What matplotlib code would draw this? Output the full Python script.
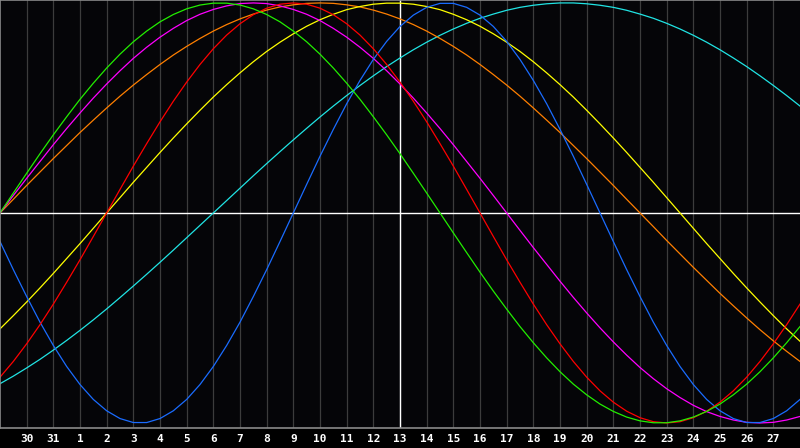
import matplotlib
matplotlib.use('Agg')
import matplotlib.pyplot as plt

# day offsets from "today" (the 13th) and the date shown at each day line
days = list(range(-15, 16))
day_labels = ['29', '30', '31', '1', '2', '3', '4', '5', '6', '7', '8', '9', '10',
              '11', '12', '13', '14', '15', '16', '17', '18', '19', '20', '21',
              '22', '23', '24', '25', '26', '27', '28']
# the curves are read every half day
t = [d / 2 for d in range(-30, 31)]

# cycle values in percent, every half day
blue = [-13.6, -27.0, -39.8, -52.0, -63.1, -73.1, -81.7, -88.8, -94.2, -97.9, -99.8,
        -99.8, -97.9, -94.2, -88.8, -81.7, -73.1, -63.1, -52.0, -39.8, -27.0, -13.6,
        0, 13.6, 27.0, 39.8, 52.0, 63.1, 73.1, 81.7, 88.8, 94.2, 97.9, 99.8,
        99.8, 97.9, 94.2, 88.8, 81.7, 73.1, 63.1, 52.0, 39.8, 27.0, 13.6,
        0, -13.6, -27.0, -39.8, -52.0, -63.1, -73.1, -81.7, -88.8, -94.2, -97.9, -99.8,
        -99.8, -97.9, -94.2, -88.8]
red = [-78.2, -70.7, -62.3, -53.2, -43.4, -33.0, -22.3, -11.2, 0,
       11.2, 22.3, 33.0, 43.4, 53.2, 62.3, 70.7, 78.2, 84.7, 90.1, 94.4, 97.5, 99.4,
       100, 99.4, 97.5, 94.4, 90.1, 84.7, 78.2, 70.7, 62.3, 53.2, 43.4, 33.0, 22.3,
       11.2, 0, -11.2, -22.3, -33.0, -43.4, -53.2, -62.3, -70.7, -78.2, -84.7, -90.1,
       -94.4, -97.5, -99.4, -100, -99.4, -97.5, -94.4, -90.1, -84.7, -78.2, -70.7,
       -62.3, -53.2, -43.4]
green = [0, 9.5, 18.9, 28.2, 37.2, 45.8, 54.1, 61.8, 69.0, 75.6, 81.5, 86.6, 91.0,
         94.5, 97.2, 99.0, 99.9, 99.9, 99.0, 97.2, 94.5, 91.0, 86.6, 81.5, 75.6, 69.0,
         61.8, 54.1, 45.8, 37.2, 28.2, 18.9, 9.5, 0, -9.5, -18.9, -28.2, -37.2, -45.8,
         -54.1, -61.8, -69.0, -75.6, -81.5, -86.6, -91.0, -94.5, -97.2, -99.0, -99.9,
         -99.9, -99.0, -97.2, -94.5, -91.0, -86.6, -81.5, -75.6, -69.0, -61.8, -54.1]
magenta = [0, 8.3, 16.5, 24.5, 32.5, 40.2, 47.6, 54.7, 61.4, 67.7, 73.6, 78.9, 83.7,
           87.9, 91.6, 94.6, 96.9, 98.6, 99.7, 100, 99.7, 98.6, 96.9, 94.6, 91.6, 87.9,
           83.7, 78.9, 73.6, 67.7, 61.4, 54.7, 47.6, 40.2, 32.5, 24.5, 16.5, 8.3, 0,
           -8.3, -16.5, -24.5, -32.5, -40.2, -47.6, -54.7, -61.4, -67.7, -73.6, -78.9,
           -83.7, -87.9, -91.6, -94.6, -96.9, -98.6, -99.7, -100, -99.7, -98.6, -96.9]
yellow = [-55.2, -48.9, -42.4, -35.7, -28.8, -21.7, -14.6, -7.3, 0,
          7.3, 14.6, 21.7, 28.8, 35.7, 42.4, 48.9, 55.2, 61.1, 66.7, 72.0, 76.9, 81.3,
          85.3, 88.9, 92.0, 94.6, 96.8, 98.3, 99.4, 99.9, 99.9, 99.4, 98.3, 96.8, 94.6,
          92.0, 88.9, 85.3, 81.3, 76.9, 72.0, 66.7, 61.1, 55.2, 48.9, 42.4, 35.7, 28.8,
          21.7, 14.6, 7.3, 0, -7.3, -14.6, -21.7, -28.8, -35.7, -42.4, -48.9, -55.2,
          -61.1]
orange = [0, 6.5, 13.1, 19.5, 25.9, 32.1, 38.3, 44.2, 50.0, 55.6, 60.9, 65.9, 70.7,
          75.2, 79.3, 83.1, 86.6, 89.7, 92.4, 94.7, 96.6, 98.1, 99.1, 99.8, 100,
          99.8, 99.1, 98.1, 96.6, 94.7, 92.4, 89.7, 86.6, 83.1, 79.3, 75.2, 70.7, 65.9,
          60.9, 55.6, 50.0, 44.2, 38.3, 32.1, 25.9, 19.5, 13.1, 6.5, 0, -6.5, -13.1,
          -19.5, -25.9, -32.1, -38.3, -44.2, -50.0, -55.6, -60.9, -65.9, -70.7]
cyan = [-81.3, -77.7, -73.8, -69.7, -65.3, -60.7, -55.9, -50.9, -45.7, -40.3, -34.8,
        -29.2, -23.5, -17.7, -11.8, -5.9, 0, 5.9, 11.8, 17.7, 23.5, 29.2, 34.8, 40.3,
        45.7, 50.9, 55.9, 60.7, 65.3, 69.7, 73.8, 77.7, 81.3, 84.6, 87.6, 90.3, 92.7,
        94.7, 96.5, 97.9, 98.9, 99.6, 100.0, 100.0, 99.6, 98.9, 97.9, 96.5, 94.7, 92.7,
        90.3, 87.6, 84.6, 81.3, 77.7, 73.8, 69.7, 65.3, 60.7, 55.9, 50.9]

series = [(cyan, '#20e4e4'), (orange, '#ff7f00'), (yellow, '#ffff00'),
          (magenta, '#ff00ff'), (blue, '#1a6cff'), (red, '#ff0000'),
          (green, '#22ee00')]

fig = plt.figure(figsize=(8, 4.48), dpi=100, facecolor='black')
ax = fig.add_axes([0, 20 / 448, 1, 428 / 448])
ax.set_facecolor('#050508')

for d in days[1:-1]:
    ax.axvline(d, color='#3c3c3c', lw=0.9, zorder=0)
ax.axhline(0, color='white', lw=1.0, zorder=1)
ax.axvline(0, color='white', lw=1.0, zorder=1)

for vals, col in series:
    ax.plot(t, vals, color=col, lw=0.9, zorder=2)

ax.set_xlim(-15, 15)
ax.set_ylim(-102.4, 101.4)
ax.set_yticks([])
ax.set_xticks(days[1:-1])
ax.set_xticklabels(day_labels[1:-1], color='white', fontsize=8,
                   fontweight='bold', family='DejaVu Sans Mono')
ax.tick_params(axis='x', length=0, pad=4)
for s in ax.spines.values():
    s.set_color('#8a8a8a')
    s.set_linewidth(1.2)
ax.spines['right'].set_visible(False)

fig.savefig('out.png', dpi=100, facecolor='black')
